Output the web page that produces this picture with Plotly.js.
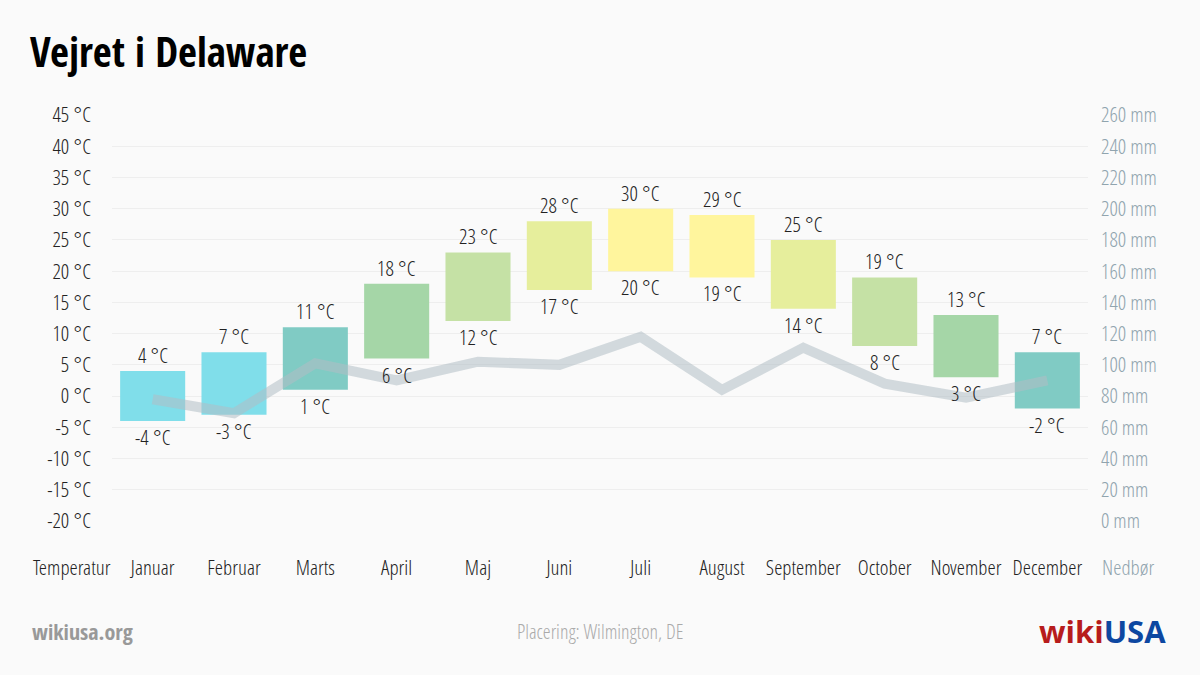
<!DOCTYPE html>
<html>
<head>
<meta charset="utf-8">
<script src="https://cdn.plot.ly/plotly-3.0.1.min.js"></script>
<style>html,body{margin:0;padding:0;background:#fafafa;}#chart{width:1200px;height:675px;}</style>
</head>
<body>
<div id="chart"></div>
<script>
const months = ["Januar","Februar","Marts","April","Maj","Juni","Juli","August","September","October","November","December"];
const tempMax = [4, 7, 11, 18, 23, 28, 30, 29, 25, 19, 13, 7];
const tempMin = [-4, -3, 1, 6, 12, 17, 20, 19, 14, 8, 3, -2];
const precip = [78, 69, 101, 90, 102, 100, 118, 84, 111, 88, 79, 90];
const tempTicks = [-20,-15,-10,-5,0,5,10,15,20,25,30,35,40,45];
const precipTicks = [0,20,40,60,80,100,120,140,160,180,200,220,240,260];

const LIGHTF = "'Open Sans Condensed Light', 'Open Sans', sans-serif";
const BOLDF = "'Open Sans Condensed', 'Open Sans', sans-serif";
function colorFor(t){
  if (t <= 8) return "#80deea";
  if (t <= 12) return "#80cbc4";
  if (t <= 18) return "#a5d6a7";
  if (t <= 23) return "#c5e1a5";
  if (t <= 28) return "#e6ee9c";
  return "#fff59d";
}
const barColors = tempMax.map((t,i) => i === 11 ? "#80cbc4" : colorFor(t));

const LIGHT = {family: LIGHTF, size: 21, color: "#222"};
const GREYAX = {family: LIGHTF, size: 21, color: "#90a4ae"};

const traces = [
  {
    type: "bar", x: months, y: tempMax.map((v,i)=>v - tempMin[i]), base: tempMin,
    marker: {color: barColors}, width: 0.8, hoverinfo: "skip", yaxis: "y"
  },
  {
    type: "scatter", mode: "lines", x: months, y: precip, yaxis: "y2",
    line: {color: "rgba(176,190,197,0.55)", width: 10, shape: "linear"}, hoverinfo: "skip"
  }
];

const valueLabels = [];
months.forEach((m, i) => {
  valueLabels.push({text: tempMax[i] + " °C", xref: "x", yref: "y", x: m, y: tempMax[i],
    yshift: 16, yanchor: "middle", xanchor: "center", showarrow: false, font: LIGHT});
  valueLabels.push({text: tempMin[i] + " °C", xref: "x", yref: "y", x: m, y: tempMin[i],
    yshift: -16, yanchor: "middle", xanchor: "center", showarrow: false, font: LIGHT});
});

const layout = {
  width: 1200, height: 675,
  paper_bgcolor: "#fafafa", plot_bgcolor: "#fafafa",
  margin: {l: 112, r: 112, t: 115, b: 154},
  showlegend: false,
  font: LIGHT,
  title: {text: "Vejret i Delaware", x: 0.025, xanchor: "left", xref: "container",
          y: 0.922, yanchor: "middle", yref: "container",
          font: {family: BOLDF, size: 41, color: "#000"}},
  xaxis: {
    type: "category", range: [-0.5, 11.5], showgrid: false, zeroline: false,
    showline: false, ticks: "", tickfont: LIGHT, ticklabelstandoff: 32, tickangle: 0,
    fixedrange: true
  },
  yaxis: {
    range: [-20, 45], tickvals: tempTicks, ticktext: tempTicks.map(v => v + " °C"),
    showgrid: true, gridcolor: "#eeeeee", gridwidth: 1, zeroline: false,
    tickfont: LIGHT, ticklabelstandoff: 20, fixedrange: true
  },
  yaxis2: {
    range: [0, 260], overlaying: "y", side: "right", tickvals: precipTicks,
    ticktext: precipTicks.map(v => v + " mm"), showgrid: false, zeroline: false,
    tickfont: GREYAX, ticklabelstandoff: 12, fixedrange: true
  },
  annotations: valueLabels.concat([
    {text: "Temperatur", xref: "paper", yref: "paper", x: -0.041, y: 0, yshift: -46, showarrow: false,
     font: LIGHT, xanchor: "center", yanchor: "middle"},
    {text: "Nedbør", xref: "paper", yref: "paper", x: 1.041, y: 0, yshift: -46, showarrow: false,
     font: GREYAX, xanchor: "center", yanchor: "middle"},
    {text: "wikiusa.org", xref: "paper", yref: "paper", x: -0.0837, xanchor: "left",
     y: 0, yshift: -110, yanchor: "middle", showarrow: false,
     font: {family: BOLDF, size: 22, color: "#999"}},
    {text: "Placering: Wilmington, DE", xref: "paper", yref: "paper", x: 0.5, xanchor: "center",
     y: 0, yshift: -110, yanchor: "middle", showarrow: false,
     font: {family: LIGHTF, size: 20, color: "#aaa"}},
    {text: "<span style='color:#b71c1c'>wiki</span><span style='color:#0d47a1'>USA</span>",
     xref: "paper", yref: "paper", x: 1.0820, xanchor: "right",
     y: 0, yshift: -110, yanchor: "middle", showarrow: false,
     font: {family: "'Open Sans', sans-serif", size: 31, weight: 700}}
  ])
};

Plotly.newPlot("chart", traces, layout, {displayModeBar: false, staticPlot: true});
</script>
</body>
</html>
